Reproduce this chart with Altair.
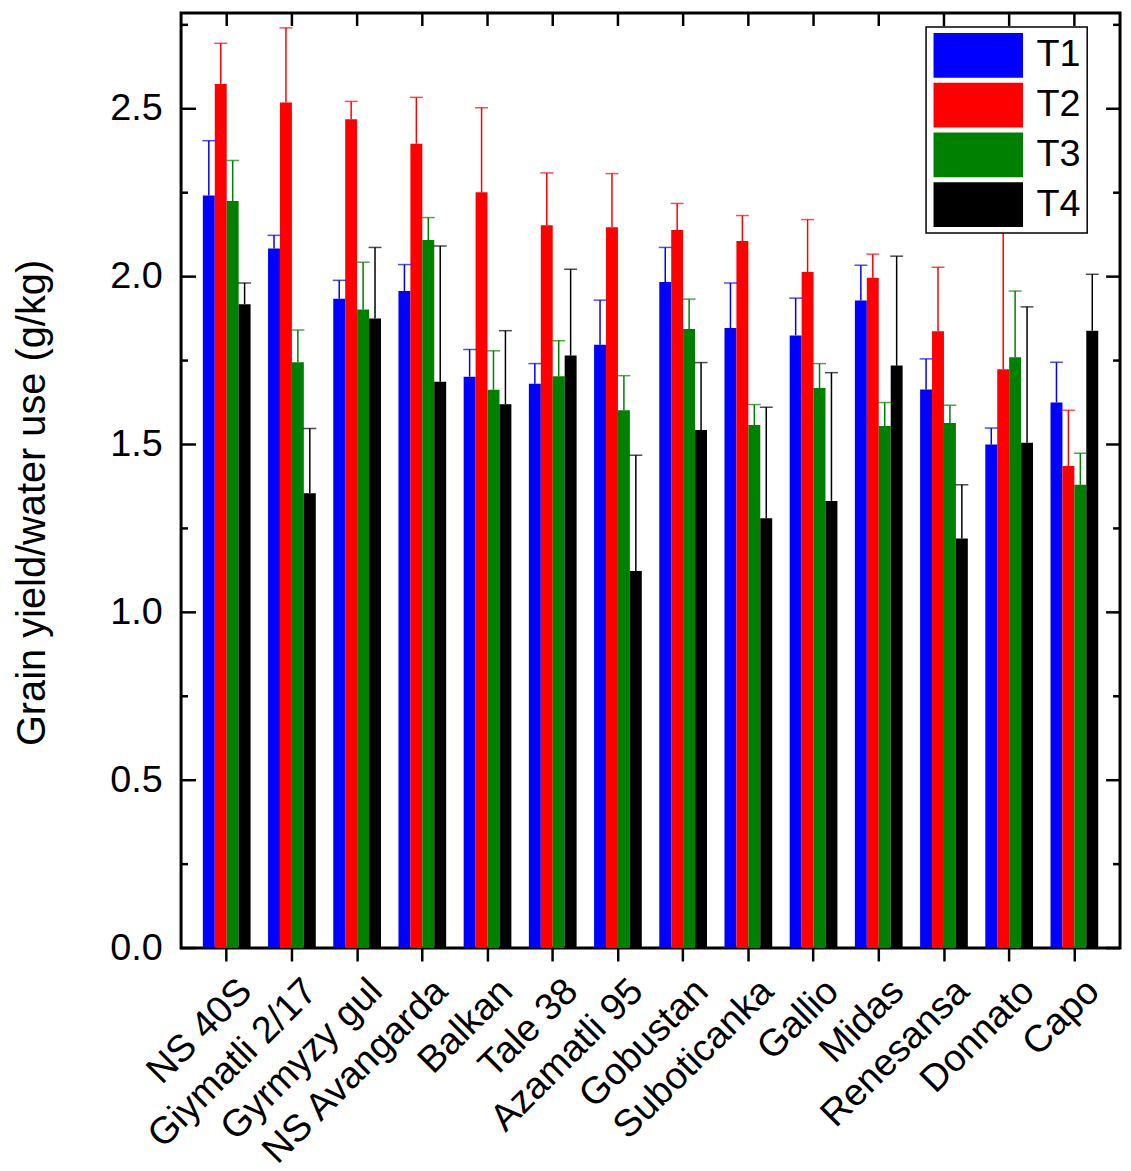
import altair as alt
import pandas as pd

categories = ["NS 40S", "Giymatli 2/17", "Gyrmyzy gul", "NS Avangarda", "Balkan",
              "Tale 38", "Azamatli 95", "Gobustan", "Suboticanka", "Gallio",
              "Midas", "Renesansa", "Donnato", "Capo"]
treatments = ["T1", "T2", "T3", "T4"]

t1 = [2.242, 2.084, 1.934, 1.957, 1.702, 1.681, 1.797, 1.984, 1.847, 1.825, 1.929, 1.664, 1.500, 1.625]
t1_err = [0.163, 0.039, 0.055, 0.079, 0.081, 0.060, 0.133, 0.103, 0.134, 0.111, 0.105, 0.091, 0.049, 0.120]
t2 = [2.574, 2.519, 2.469, 2.396, 2.251, 2.153, 2.147, 2.139, 2.106, 2.014, 1.997, 1.837, 1.724, 1.436]
t2_err = [0.121, 0.222, 0.053, 0.138, 0.252, 0.156, 0.160, 0.079, 0.076, 0.156, 0.070, 0.191, 0.550, 0.166]
t3 = [2.225, 1.745, 1.902, 2.109, 1.663, 1.703, 1.602, 1.844, 1.558, 1.668, 1.555, 1.564, 1.760, 1.380]
t3_err = [0.121, 0.096, 0.141, 0.067, 0.116, 0.106, 0.103, 0.089, 0.061, 0.073, 0.070, 0.053, 0.197, 0.094]
t4 = [1.918, 1.355, 1.875, 1.687, 1.620, 1.765, 1.123, 1.543, 1.280, 1.332, 1.735, 1.220, 1.505, 1.839]
t4_err = [0.063, 0.193, 0.212, 0.404, 0.219, 0.257, 0.345, 0.201, 0.331, 0.382, 0.326, 0.160, 0.405, 0.168]

colors = ["#0000ff", "#ff0000", "#008000", "#000000"]
major_ticks = [0.0, 0.5, 1.0, 1.5, 2.0, 2.5]
minor_ticks = [0.25, 0.75, 1.25, 1.75, 2.25, 2.75]
y_title = "Grain yield/water use (g/kg)"

rows = []
for tname, vals, errs in zip(treatments, [t1, t2, t3, t4], [t1_err, t2_err, t3_err, t4_err]):
    for c, v, e in zip(categories, vals, errs):
        rows.append({"cat": c, "treat": tname, "value": v, "hi": v + e})
df = pd.DataFrame(rows)
major_df = pd.DataFrame({"v": major_ticks})
minor_df = pd.DataFrame({"v": minor_ticks})
cat_df = pd.DataFrame({"cat": categories})

W, H = 944, 940

x_scale = alt.Scale(paddingInner=0.268, paddingOuter=0.334)
x_axis = alt.Axis(title=None, domain=False, ticks=True, tickSize=13, tickWidth=2.5,
                  tickColor="black", labelAngle=315, labelAlign="right",
                  labelBaseline="top", labelPadding=11, labelOffset=6,
                  labelFontSize=38, labelColor="black", labelLimit=400, grid=False)
y_scale = alt.Scale(domain=[0, 2.785], nice=False, zero=True)
y_axis = alt.Axis(title=y_title, values=major_ticks, format=".1f", domain=False,
                  ticks=False, tickSize=0, grid=False, labelFontSize=38,
                  labelPadding=19, labelColor="black", titleFontSize=40,
                  titleFontWeight="normal", titleColor="black", titleAngle=270,
                  titleAlign="center", titleBaseline="alphabetic",
                  titleX=-137, titleY=492)

xo_scale = alt.Scale(paddingInner=0, paddingOuter=0)
color_scale = alt.Scale(domain=treatments, range=colors)

X = alt.X("cat:N", sort=categories, scale=x_scale, axis=x_axis)
XO = alt.XOffset("treat:N", sort=treatments, scale=xo_scale)

legend = alt.Legend(title=None, orient="none", legendX=749, legendY=14,
                    symbolType="M-2,-1H2V1H-2Z", symbolSize=2025,
                    symbolStrokeWidth=0, symbolOpacity=1, symbolOffset=24,
                    labelOffset=36, labelFontSize=38, labelColor="black",
                    rowPadding=5, padding=6, strokeColor="black",
                    fillColor="white", cornerRadius=0, labelLimit=200)

bars = alt.Chart(df).mark_bar(strokeWidth=0).encode(
    x=X, xOffset=XO,
    y=alt.Y("value:Q", scale=y_scale, axis=y_axis),
    color=alt.Color("treat:N", scale=color_scale, legend=legend),
)

err = alt.Chart(df).mark_rule(strokeWidth=1.5).encode(
    x=X, xOffset=XO,
    y=alt.Y("value:Q", scale=y_scale, axis=y_axis),
    y2="hi:Q",
    color=alt.Color("treat:N", scale=color_scale, legend=None),
)

caps = alt.Chart(df).mark_tick(thickness=1.5, size=13).encode(
    x=X, xOffset=XO,
    y=alt.Y("hi:Q", scale=y_scale, axis=y_axis),
    color=alt.Color("treat:N", scale=color_scale, legend=None),
)

left_major = alt.Chart(major_df).mark_rule(color="black", strokeWidth=2.5).encode(
    y=alt.Y("v:Q", scale=y_scale, axis=y_axis), x=alt.value(0), x2=alt.value(15))
left_minor = alt.Chart(minor_df).mark_rule(color="black", strokeWidth=2.5).encode(
    y=alt.Y("v:Q", scale=y_scale, axis=y_axis), x=alt.value(0), x2=alt.value(7))
right_major = alt.Chart(major_df).mark_rule(color="black", strokeWidth=2.5).encode(
    y=alt.Y("v:Q", scale=y_scale, axis=y_axis), x=alt.value(W - 14), x2=alt.value(W))
right_minor = alt.Chart(minor_df).mark_rule(color="black", strokeWidth=2.5).encode(
    y=alt.Y("v:Q", scale=y_scale, axis=y_axis), x=alt.value(W - 7), x2=alt.value(W))
top_ticks = alt.Chart(cat_df).mark_rule(color="black", strokeWidth=2.5).encode(
    x=X, y=alt.value(0), y2=alt.value(13))

chart = alt.layer(
    bars, err, caps, left_major, left_minor, right_major, right_minor, top_ticks
).properties(
    width=W, height=H,
    padding={"left": 174, "top": 2, "right": 3, "bottom": 220},
    autosize=alt.AutoSizeParams(type="none"),
).configure(
    font="Liberation Sans",
).configure_view(
    stroke="black", strokeWidth=3,
).configure_legend(
    strokeWidth=1.5,
)

chart.save("out.html", embed_options={"renderer": "svg", "actions": False})
